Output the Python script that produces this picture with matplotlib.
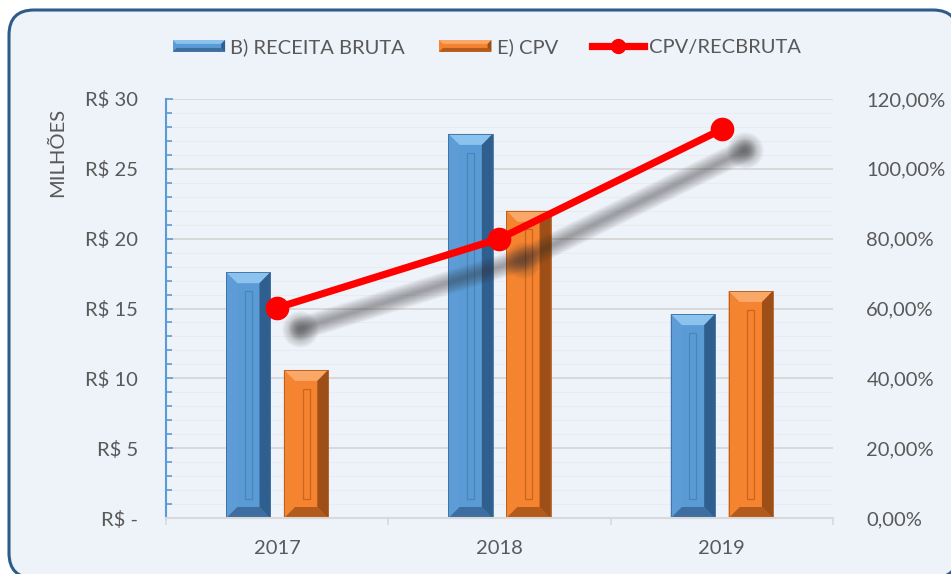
import matplotlib
matplotlib.use("Agg")
import matplotlib.pyplot as plt
import numpy as np
from matplotlib.patches import FancyBboxPatch, Polygon, Rectangle
from matplotlib.lines import Line2D
from matplotlib.transforms import IdentityTransform, ScaledTranslation
from matplotlib.legend_handler import HandlerPatch

# ---------------- data ----------------
years = ["2017", "2018", "2019"]
receita_bruta = [17.6, 27.5, 14.6]      # R$ milhões
cpv = [10.6, 22.0, 16.25]              # R$ milhões
cpv_rec = [0.602, 0.80, 1.113]          # ratio
left_ticks = [0, 5, 10, 15, 20, 25, 30]
left_labels = ["R$ -", "R$ 5", "R$ 10", "R$ 15", "R$ 20", "R$ 25", "R$ 30"]
right_ticks = [0, 0.2, 0.4, 0.6, 0.8, 1.0, 1.2]
right_labels = ["0,00%", "20,00%", "40,00%", "60,00%", "80,00%", "100,00%", "120,00%"]
series_names = ["B) RECEITA BRUTA", "E) CPV", "CPV/RECBRUTA"]

# ---------------- style ----------------
plt.rcParams['font.family'] = ['Lato', 'DejaVu Sans']
TXT = "#595959"
BG = "#EEF2F9"
FS = 14.5
BLUE = dict(main="#5B9BD5", top="#8CC2EE", left="#5D9CD6", right="#2F5F8E",
            bottom="#3D6E9F", inner="#4A84BC", edge="#3A6E9E")
ORANGE = dict(main="#F5832F", top="#FAA868", left="#F38430", right="#9E4E17",
              bottom="#B35B1C", inner="#C8661F", edge="#B05A1E")

W, H, DPI = 9.51, 5.74, 100
fig = plt.figure(figsize=(W, H), dpi=DPI, facecolor="white")

# rounded border
border = FancyBboxPatch((9, -4), 949, 568, boxstyle="round,pad=0,rounding_size=25",
                        transform=IdentityTransform(), facecolor=BG, edgecolor="#2E5C8A",
                        linewidth=2.2, zorder=-5)
fig.patches.append(border)

L, R, B, T = 166, 833, 518, 99
ax = fig.add_axes([L / 951, (574 - B) / 574, (R - L) / 951, (B - T) / 574])
ax.set_facecolor("none")
ax2 = ax.twinx()
ax2.set_facecolor("none")

x = np.arange(len(years))
bw = 0.2
off = 0.13
bars1 = ax.bar(x - off, receita_bruta, bw, color=BLUE["main"], zorder=2, linewidth=0)
bars2 = ax.bar(x + off, cpv, bw, color=ORANGE["main"], zorder=2, linewidth=0)

ax.set_xlim(-0.5, len(years) - 0.5)
ax.set_ylim(0, 30)
ax2.set_ylim(0, 1.2)

# pixel -> data conversions
ax_w_px = (R - L)
ax_h_px = (B - T)
dx_per_px = (len(years)) / ax_w_px
dy_per_px = 30 / ax_h_px


def bevel(rect, c):
    x0 = rect.get_x(); w = rect.get_width(); h = rect.get_height()
    x1 = x0 + w
    bx = 11 * dx_per_px
    by = 11 * dy_per_px
    z = 2.1
    polys = [
        ([(x0, h), (x1, h), (x1 - bx, h - by), (x0 + bx, h - by)], c["top"]),
        ([(x0, 0), (x1, 0), (x1 - bx, by), (x0 + bx, by)], c["bottom"]),
        ([(x0, 0), (x0, h), (x0 + bx, h - by), (x0 + bx, by)], c["left"]),
        ([(x1, 0), (x1, h), (x1 - bx, h - by), (x1 - bx, by)], c["right"]),
    ]
    for pts, col in polys:
        ax.add_patch(Polygon(pts, closed=True, facecolor=col, edgecolor="none", zorder=z))
    for f, a in [(0.66, 0.35), (0.33, 0.5)]:
        ax.add_patch(Polygon([(x1, 0), (x1, h), (x1 - bx * f, h - by * f), (x1 - bx * f, by * f)],
                             closed=True, facecolor=c["right"], edgecolor="none", alpha=a, zorder=z))
    cx = x0 + w / 2
    iw = 7 * dx_per_px
    ax.add_patch(Rectangle((cx - iw / 2, 1.7 * by), iw, h - 3.4 * by, facecolor="none",
                           edgecolor=c["inner"], linewidth=0.9, zorder=z + 0.1))
    ax.add_patch(Rectangle((x0, 0), w, h, facecolor="none", edgecolor=c["edge"], linewidth=0.6,
                           zorder=z + 0.2))


for r in bars1:
    bevel(r, BLUE)
for r in bars2:
    bevel(r, ORANGE)

# left axis
ax.set_yticks(left_ticks)
ax.set_yticklabels(left_labels, color=TXT, fontsize=FS)
ax.set_yticks(np.arange(0, 31, 1), minor=True)
ax.tick_params(axis="y", which="both", direction="in", color="#5B9BD5", width=1.2, pad=20)
ax.tick_params(axis="y", which="major", length=5)
ax.tick_params(axis="y", which="minor", length=4)
ax.grid(axis="y", which="major", color="#D9D9D9", linewidth=1.4, zorder=0)
ax.grid(axis="y", which="minor", color="#E6E9EE", linewidth=0.5, zorder=0)
ax.set_axisbelow(True)

# x axis
ax.set_xticks(np.arange(-0.5, len(years), 1))
ax.set_xticklabels([])
ax.set_xticks(x, minor=True)
ax.set_xticklabels(years, minor=True, color=TXT, fontsize=FS)
ax.tick_params(axis="x", which="major", direction="out", length=5, color="#D9D9D9", width=1.2)
ax.tick_params(axis="x", which="minor", length=0, pad=16)

for s in ["top", "right"]:
    ax.spines[s].set_visible(False)
ax.spines["left"].set_color("#5B9BD5")
ax.spines["left"].set_linewidth(1.5)
ax.spines["bottom"].set_color("#D9D9D9")
ax.spines["bottom"].set_linewidth(1.5)
for s in ax2.spines.values():
    s.set_visible(False)

# right axis
ax2.set_yticks(right_ticks)
ax2.set_yticklabels(right_labels, color=TXT, fontsize=FS)
ax2.tick_params(axis="y", length=0, pad=24)

# soft shadow of the ratio line
shadow_tr = ax2.transData + ScaledTranslation(23 / DPI, -21 / DPI, fig.dpi_scale_trans)
for lw in np.linspace(17, 2, 14):
    ax2.plot(x, cpv_rec, color="#303030", linewidth=lw, alpha=0.035, solid_capstyle="round",
             solid_joinstyle="round", transform=shadow_tr, zorder=3)
for ms in np.linspace(26, 6, 10):
    ax2.plot(x, cpv_rec, linestyle="none", marker="o", markersize=ms, markeredgewidth=0,
             color="#303030", alpha=0.05, transform=shadow_tr, zorder=3)

ax2.plot(x, cpv_rec, color="#FF0000", linewidth=5.2, marker="o", markersize=16,
         solid_capstyle="round", zorder=4)

# y label
fig.text(58 / 951, 1 - 152 / 574, "MILHÕES", rotation=90, ha="center", va="center",
         color=TXT, fontsize=14.5)


class BevelHandler(HandlerPatch):
    def __init__(self, c):
        super().__init__()
        self.c = c

    def create_artists(self, legend, orig_handle, xdescent, ydescent, width, height, fontsize, trans):
        c = self.c
        yc = height / 2 - ydescent
        hh = 8.5
        x0, x1 = -xdescent, -xdescent + width
        y0, y1 = yc - hh / 2, yc + hh / 2
        b = 2.8
        arts = [Rectangle((x0, y0), width, hh, facecolor=c["main"], edgecolor="none", transform=trans)]
        for pts, col in [([(x0, y1), (x1, y1), (x1 - b, y1 - b), (x0 + b, y1 - b)], c["top"]),
                         ([(x0, y0), (x1, y0), (x1 - b, y0 + b), (x0 + b, y0 + b)], c["bottom"]),
                         ([(x1, y0), (x1, y1), (x1 - b, y1 - b), (x1 - b, y0 + b)], c["right"])]:
            arts.append(Polygon(pts, closed=True, facecolor=col, edgecolor="none", transform=trans))
        return arts


h1 = Rectangle((0, 0), 1, 1)
h2 = Rectangle((0, 0), 1, 1)
h3 = Line2D([], [], color="#FF0000", linewidth=5.2, marker="o", markersize=10)
leg = fig.legend([h1, h2, h3], series_names, loc="center", bbox_to_anchor=(487 / 951, 1 - 47 / 574),
                 ncol=3, frameon=False, fontsize=FS, handlelength=2.6, handletextpad=0.25,
                 columnspacing=1.7, labelcolor=TXT,
                 handler_map={h1: BevelHandler(BLUE), h2: BevelHandler(ORANGE)})

fig.savefig("out.png", dpi=DPI, facecolor="white")
